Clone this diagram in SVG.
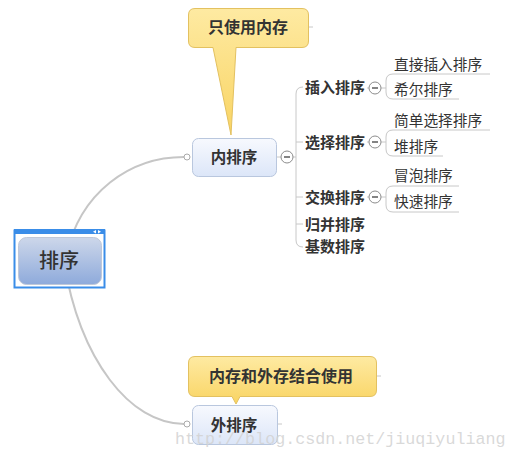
<svg xmlns="http://www.w3.org/2000/svg" width="517" height="457" viewBox="0 0 517 457">
<defs>
<linearGradient id="gRoot" x1="0" y1="0" x2="0" y2="1"><stop offset="0" stop-color="#cdd7ea"/><stop offset="1" stop-color="#8eaadb"/></linearGradient>
<linearGradient id="gMain" x1="0" y1="0" x2="0" y2="1"><stop offset="0" stop-color="#f7f9fe"/><stop offset="1" stop-color="#dce6f8"/></linearGradient>
<linearGradient id="gCall" x1="0" y1="0" x2="0" y2="1"><stop offset="0" stop-color="#feeaa2"/><stop offset="1" stop-color="#f9d463"/></linearGradient>
<style>
.cn{font-family:"Noto Sans CJK SC","Noto Sans",sans-serif;fill:#333}
.b{font-weight:bold}
.conn{fill:none;stroke:#c6c6c6;stroke-width:2}
.br{fill:none;stroke:#c8c8c8;stroke-width:1}
.mn{fill:#fff;stroke:#8c8c8c;stroke-width:1}
.main{fill:url(#gMain);stroke:#b9c7de;stroke-width:1}
.call{fill:url(#gCall);stroke:#e3c160;stroke-width:1}
</style>
</defs>
<g id="connectors">
<path class="conn" d="M66,256 C80,192 130,157 184,157"/>
<path class="conn" d="M64,262 C80,360 130,424 184,424"/>
<circle cx="187" cy="157" r="3" fill="#fff" stroke="#aaa"/>
<circle cx="187" cy="424" r="3" fill="#fff" stroke="#aaa"/>
<path class="br" d="M276,157 L281,157 M293,157 L296,157 M303,87 Q296,87 296,94 L296,240 Q296,247 303,247 M296,142 L303,142 M296,197 L303,197 M296,224 L303,224"/>
<path class="br" d="M369,88 L367,88 M381,88 L386,88 M490,74 L393,74 Q386,74 386,81 L386,92 Q386,99 393,99 L459,99"/>
<path class="br" d="M369,142 L367,142 M381,142 L386,142 M490,130 L393,130 Q386,130 386,137 L386,149 Q386,156 393,156 L443,156"/>
<path class="br" d="M369,197 L367,197 M381,197 L386,197 M459,186 L393,186 Q386,186 386,193 L386,205 Q386,212 393,212 L459,212"/>
<path class="br" d="M308,27 L313,27 M376,376 L381,376 M278,424 L282,424"/>
<g><circle class="mn" cx="287" cy="157" r="6"/><line x1="284" y1="157" x2="290" y2="157" stroke="#333" stroke-width="1.2"/></g>
<g><circle class="mn" cx="375" cy="88" r="6"/><line x1="372" y1="88" x2="378" y2="88" stroke="#333" stroke-width="1.2"/></g>
<g><circle class="mn" cx="375" cy="142" r="6"/><line x1="372" y1="142" x2="378" y2="142" stroke="#333" stroke-width="1.2"/></g>
<g><circle class="mn" cx="375" cy="197" r="6"/><line x1="372" y1="197" x2="378" y2="197" stroke="#333" stroke-width="1.2"/></g>
</g>
<g id="root">
<rect x="14.5" y="230.5" width="90" height="57" fill="#fff" stroke="#3a8de8" stroke-width="2"/>
<rect x="14" y="229" width="91" height="5" fill="#3a8de8"/>
<path d="M96,230 L93,231.8 L96,233.5 Z M98,230 L101,231.8 L98,233.5 Z" fill="#fff"/>
<rect x="18.5" y="237.5" width="83" height="47" rx="8" fill="url(#gRoot)" stroke="#c0c8d8"/>
<text class="cn" x="59" y="268" font-size="20" text-anchor="middle" font-weight="500">排序</text>
</g>
<g id="n-nei">
<rect class="main" x="192.5" y="138.5" width="84" height="38" rx="6"/>
<text class="cn b" x="234" y="162.5" font-size="15.5" text-anchor="middle">内排序</text>
</g>
<g id="call-nei">
<path class="call" d="M195,8.5 H302 Q308.5,8.5 308.5,15 V41 Q308.5,47.5 302,47.5 H236 L231,135 L213,47.5 H195 Q188.5,47.5 188.5,41 V15 Q188.5,8.5 195,8.5 Z"/>
<text class="cn b" x="248" y="33" font-size="16" text-anchor="middle">只使用内存</text>
</g>
<g id="n-wai">
<rect class="main" x="192.5" y="405.5" width="85" height="39" rx="6"/>
<text class="cn b" x="234" y="430.5" font-size="15.5" text-anchor="middle">外排序</text>
</g>
<g id="call-wai">
<path class="call" d="M195,356.5 H370 Q376.5,356.5 376.5,363 V390 Q376.5,396.5 370,396.5 H240 L236,404 L232,396.5 H195 Q188.5,396.5 188.5,390 V363 Q188.5,356.5 195,356.5 Z"/>
<text class="cn b" x="281" y="382" font-size="16" text-anchor="middle">内存和外存结合使用</text>
</g>
<g id="l2">
<text class="cn b" x="305" y="92.5" font-size="15">插入排序</text>
<text class="cn b" x="305" y="147.5" font-size="15">选择排序</text>
<text class="cn b" x="305" y="202.5" font-size="15">交换排序</text>
<text class="cn b" x="305" y="229.5" font-size="15">归并排序</text>
<text class="cn b" x="305" y="251.5" font-size="15">基数排序</text>
</g>
<g id="leaves">
<text class="cn" x="394" y="70" font-size="14.7" fill="#444">直接插入排序</text>
<text class="cn" x="394" y="95" font-size="14.7">希尔排序</text>
<text class="cn" x="394" y="126" font-size="14.7">简单选择排序</text>
<text class="cn" x="394" y="152" font-size="14.7">堆排序</text>
<text class="cn" x="394" y="181" font-size="14.7">冒泡排序</text>
<text class="cn" x="394" y="207" font-size="14.7">快速排序</text>
</g>
<text x="175" y="444" font-family="Liberation Mono, monospace" font-size="16.7" fill="#d2d2d2" fill-opacity="0.85">http://blog.csdn.net/jiuqiyuliang</text>
</svg>
